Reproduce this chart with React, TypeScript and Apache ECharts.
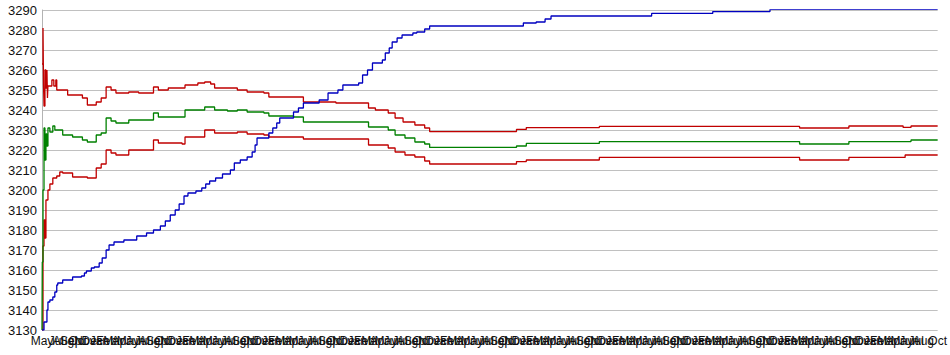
import React, { useEffect, useRef } from "react";
import * as echarts from "echarts";

// x = month index since the first month (May), y = value
const monthNames = ["May", "Jun", "Jul", "Aug", "Sep", "Oct", "Nov", "Dec", "Jan", "Feb", "Mar", "Apr"];
const monthCount = 125;

const yTicks = { min: 3130, max: 3290, step: 10 };

const bluePoints: [number, number][] = [
  [0, 3130], [0.28, 3134], [0.69, 3140], [0.83, 3144], [1.1, 3145], [1.51, 3146.5], [1.79, 3149],
  [2.06, 3152.5], [2.2, 3153.5], [2.89, 3155], [4.27, 3156.5], [5.51, 3157], [5.92, 3158.5],
  [6.2, 3159.5], [6.88, 3161], [7.3, 3161.5], [7.98, 3163.5], [8.4, 3166], [8.95, 3170],
  [9.36, 3172.5], [10.05, 3174], [11.43, 3175], [13.22, 3177], [14.59, 3178.5], [15.56, 3180],
  [16.52, 3182], [17.21, 3184.5], [17.9, 3187.5], [18.59, 3190], [19.14, 3193], [19.82, 3197],
  [20.37, 3198.5], [21.48, 3199.5], [22.3, 3201], [22.85, 3203], [23.4, 3204.5], [24.23, 3206],
  [25.19, 3208], [26.29, 3210], [26.84, 3213.5], [27.67, 3215], [28.63, 3216.5], [29.33, 3219],
  [29.74, 3222.5], [30.01, 3226], [31.66, 3228.5], [32.21, 3231], [32.76, 3233.5], [33.18, 3236],
  [35.1, 3239], [35.79, 3241], [36.48, 3243.5], [38.68, 3245], [39.92, 3248.5], [41.3, 3250],
  [41.99, 3252.5], [44.19, 3253.5], [44.74, 3257.5], [45.43, 3260], [46.12, 3263.5], [47.5, 3265],
  [47.91, 3268.5], [48.46, 3271], [48.87, 3274], [49.56, 3276], [50.25, 3277.5], [51.76, 3278.5],
  [52.31, 3279], [53.41, 3280.5], [54.1, 3282], [67.18, 3283.5], [68.97, 3284], [70.21, 3285.5],
  [71.04, 3287], [85.08, 3288.3], [93.61, 3289.2], [101.6, 3290.3], [125, 3290.3],
];

const upperPoints: [number, number][] = [
  [0, 3263], [0.14, 3281], [0.21, 3253], [0.28, 3242], [0.41, 3260], [0.55, 3251], [0.69, 3260],
  [0.76, 3246], [0.83, 3252], [1.38, 3255], [1.65, 3252], [1.93, 3255], [2.06, 3250], [2.89, 3250],
  [3.58, 3247.5], [5.64, 3246], [6.33, 3242.5], [7.57, 3244], [8.26, 3246], [8.95, 3251.5],
  [9.64, 3250], [10.32, 3248.5], [12.11, 3249], [13.49, 3248.5], [15.56, 3251.5], [16.24, 3250],
  [17.62, 3251], [19.96, 3252.5], [21.75, 3253.5], [22.71, 3254], [23.54, 3253], [24.09, 3251],
  [27.26, 3250], [28.63, 3249], [30.97, 3248.5], [31.66, 3246.5], [36.48, 3244], [41.02, 3243.5],
  [45.57, 3241], [46.53, 3240], [48.32, 3238.5], [49.28, 3236], [50.39, 3234], [52.04, 3232.5],
  [53.41, 3231], [54.1, 3229.2], [66.22, 3230.3], [67.59, 3231.2], [77.78, 3231.8], [105.73, 3231],
  [112.61, 3232], [120.18, 3231.3], [121.28, 3232], [125, 3232],
];

const middlePoints: [number, number][] = [
  [0, 3130], [0.04, 3164], [0.14, 3200], [0.28, 3231], [0.41, 3215], [0.55, 3228], [0.69, 3222],
  [0.83, 3231], [1.1, 3229], [1.51, 3232], [1.79, 3230], [2.89, 3227.5], [4.27, 3226.5],
  [5.64, 3225], [6.33, 3224], [7.57, 3227.5], [8.26, 3228.5], [8.95, 3236], [9.64, 3234.5],
  [10.32, 3233.5], [12.11, 3235], [13.49, 3235], [15.56, 3238.5], [16.24, 3236.5], [19.55, 3236.5],
  [19.96, 3240], [22.71, 3241.5], [24.09, 3240], [25.88, 3239.5], [27.26, 3240], [28.63, 3239],
  [30.97, 3238.5], [31.66, 3237], [35.1, 3236.5], [36.48, 3234], [44.74, 3234], [45.57, 3231.5],
  [48.32, 3230], [49.28, 3227.5], [50.66, 3226], [52.04, 3224], [53.41, 3223], [54.1, 3221.3],
  [66.22, 3222], [67.59, 3223.3], [77.78, 3224.2], [105.73, 3223], [112.61, 3224.2],
  [121.28, 3225], [125, 3225],
];

const lowerPoints: [number, number][] = [
  [0, 3130], [0.14, 3172], [0.28, 3185], [0.41, 3176], [0.55, 3195], [0.83, 3200], [1.1, 3203],
  [1.51, 3206], [2.06, 3207], [2.48, 3209], [2.89, 3208.5], [4.27, 3206.5], [6.33, 3206],
  [7.57, 3211], [8.26, 3213], [8.95, 3220], [9.64, 3218.5], [10.32, 3217.5], [12.11, 3220],
  [13.49, 3220], [15.56, 3225], [16.24, 3223.5], [19.55, 3223], [19.96, 3226.5], [22.71, 3230],
  [24.09, 3228.5], [27.26, 3229], [28.63, 3228], [30.97, 3227.5], [31.66, 3226.5], [36.48, 3225.5],
  [44.74, 3225.5], [45.57, 3222.5], [48.32, 3221], [49.28, 3219], [50.66, 3217.5], [52.04, 3216.5],
  [53.41, 3214.5], [54.1, 3213], [66.22, 3214.2], [67.59, 3215], [77.78, 3216.3], [105.73, 3215],
  [112.61, 3216.3], [120.46, 3217.5], [125, 3217.5],
];

const FONT = "'Liberation Sans', Arial, sans-serif";

export default function App() {
  const ref = useRef<HTMLDivElement>(null);
  useEffect(() => {
    if (!ref.current) return;
    const chart = echarts.init(ref.current, undefined, { renderer: "svg" });
    const mk = (name: string, data: [number, number][], color: string, z: number) => ({
      name,
      type: "line",
      data,
      step: "end",
      showSymbol: false,
      symbol: "none",
      z,
      lineStyle: { color, width: 1.3 },
      itemStyle: { color },
      emphasis: { disabled: true },
    });
    chart.setOption({
      animation: false,
      grid: { left: 42, right: 0, top: 10, bottom: 25, containLabel: false },
      xAxis: {
        type: "value",
        min: 0,
        max: monthCount,
        interval: 1,
        axisLine: { show: false },
        axisTick: { show: false },
        splitLine: { show: false },
        axisLabel: {
          show: true,
          margin: 5,
          fontSize: 12,
          fontFamily: FONT,
          color: "#111",
          showMinLabel: true,
          showMaxLabel: true,
          hideOverlap: false,
          formatter: (v: number) => monthNames[Math.round(v) % 12],
        },
      },
      yAxis: {
        type: "value",
        min: yTicks.min,
        max: yTicks.max,
        interval: yTicks.step,
        axisLine: { show: true, lineStyle: { color: "#b3b3b3", width: 1 } },
        axisTick: { show: false },
        splitLine: { show: true, lineStyle: { color: "#c0c0c0", width: 1 } },
        axisLabel: {
          margin: 5,
          fontSize: 13,
          fontFamily: FONT,
          color: "#111",
          formatter: (v: number) => String(v),
        },
      },
      series: [
        mk("upper", upperPoints, "#c00000", 3),
        mk("lower", lowerPoints, "#c00000", 3),
        mk("estimate", middlePoints, "#008000", 4),
        mk("progress", bluePoints, "#0000c0", 5),
      ],
    });
    return () => chart.dispose();
  }, []);
  return (
    <div
      ref={ref}
      style={{ position: "fixed", left: 0, top: 0, width: 950, height: 355, background: "#fff" }}
    />
  );
}
